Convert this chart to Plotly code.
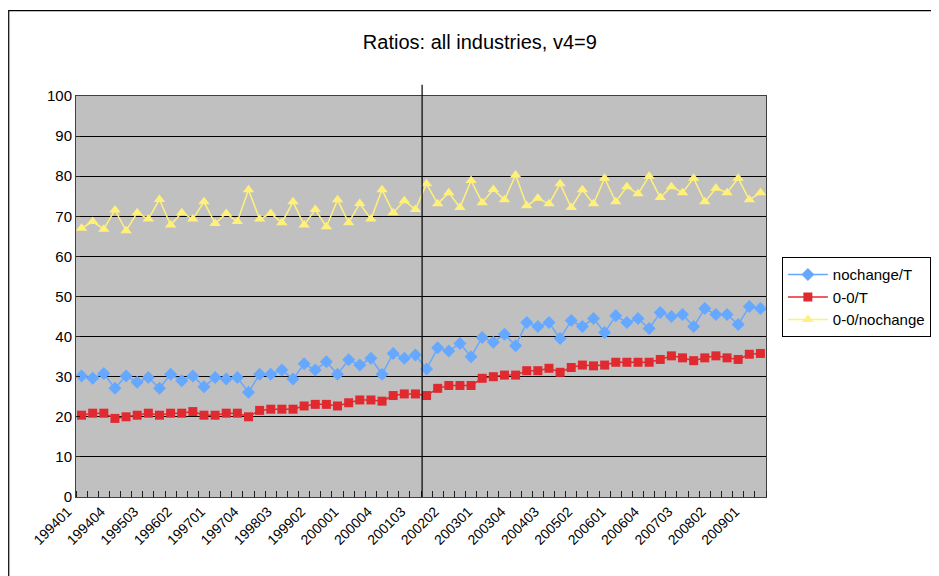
import plotly.graph_objects as go

quarters = [
    "199401", "199402", "199403", "199404", "199501", "199502", "199503", "199504",
    "199601", "199602", "199603", "199604", "199701", "199702", "199703", "199704",
    "199801", "199802", "199803", "199804", "199901", "199902", "199903", "199904",
    "200001", "200002", "200003", "200004", "200101", "200102", "200103", "200104",
    "200201", "200202", "200203", "200204", "200301", "200302", "200303", "200304",
    "200401", "200402", "200403", "200404", "200501", "200502", "200503", "200504",
    "200601", "200602", "200603", "200604", "200701", "200702", "200703", "200704",
    "200801", "200802", "200803", "200804", "200901", "200902",
]

nochange_T = [
    30.2, 29.6, 30.8, 27.1, 30.2, 28.6, 29.8, 27.1, 30.6, 29.0,
    30.2, 27.5, 29.8, 29.4, 29.8, 26.1, 30.6, 30.6, 31.7, 29.4,
    33.2, 31.7, 33.7, 30.6, 34.2, 32.9, 34.6, 30.6, 35.8, 34.6,
    35.4, 31.9, 37.2, 36.4, 38.3, 35.0, 39.8, 38.6, 40.6, 37.7,
    43.5, 42.5, 43.5, 39.5, 44.0, 42.5, 44.5, 41.0, 45.2, 43.5,
    44.5, 42.0, 46.0, 45.0, 45.5, 42.5, 47.0, 45.5, 45.5, 43.0,
    47.5, 47.0,
]

zero_zero_T = [
    20.4, 20.9, 20.9, 19.6, 20.0, 20.4, 20.9, 20.4, 20.9, 20.9,
    21.3, 20.4, 20.4, 20.9, 20.9, 20.0, 21.6, 21.9, 21.9, 21.9,
    22.7, 23.1, 23.1, 22.7, 23.5, 24.2, 24.2, 23.9, 25.3, 25.7,
    25.7, 25.3, 27.1, 27.8, 27.8, 27.8, 29.6, 30.0, 30.4, 30.4,
    31.5, 31.5, 32.1, 31.1, 32.3, 32.9, 32.7, 32.9, 33.6, 33.6,
    33.6, 33.6, 34.3, 35.2, 34.7, 34.0, 34.7, 35.2, 34.7, 34.3,
    35.6, 35.8,
]

zero_zero_nochange = [
    67.0, 68.7, 66.8, 71.6, 66.4, 70.9, 69.3, 74.2, 67.8, 70.9,
    69.3, 73.6, 68.2, 70.7, 68.7, 76.6, 69.3, 70.7, 68.4, 73.6,
    67.8, 71.7, 67.4, 74.1, 68.4, 73.2, 69.3, 76.6, 70.9, 73.9,
    71.7, 78.1, 73.1, 75.9, 72.2, 78.9, 73.4, 76.7, 74.1, 80.3,
    72.6, 74.5, 73.1, 78.1, 72.2, 76.6, 73.1, 79.5, 73.6, 77.4,
    75.6, 80.0, 74.7, 77.4, 75.9, 79.5, 73.6, 77.0, 75.9, 79.5,
    74.1, 75.9,
]

series_names = ["nochange/T", "0-0/T", "0-0/nochange"]
series_colors = ["#66A8FF", "#E02A30", "#FFF07A"]
series_symbols = ["diamond", "square", "triangle-up"]
break_after = "200103"

label_step = 3
x_idx = list(range(len(quarters)))
tick_idx = x_idx[::label_step]
tick_txt = quarters[::label_step]

fig = go.Figure()
for name, vals, col, sym in zip(series_names,
                                [nochange_T, zero_zero_T, zero_zero_nochange],
                                series_colors, series_symbols):
    fig.add_trace(go.Scatter(
        x=x_idx, y=vals, name=name, mode="lines+markers",
        line=dict(color=col, width=1.5),
        marker=dict(symbol=sym, size=10 if sym != "square" else 9, color=col,
                    line=dict(width=0)),
    ))

font_family = "Liberation Sans, Arial, sans-serif"

# vertical separator line between periods
bx = quarters.index(break_after) + 0.6
fig.add_shape(type="line", xref="x", yref="paper", x0=bx, x1=bx, y0=0, y1=1.028,
              line=dict(color="black", width=1.2))

# chart-area border
fig.add_shape(type="rect", xref="paper", yref="paper", x0=-0.0975, x1=1.4,
              y0=-0.3, y1=1.213, line=dict(color="black", width=1.2),
              fillcolor="rgba(0,0,0,0)", layer="below")

fig.update_layout(
    width=939, height=576,
    margin=dict(l=68, r=181, t=88, b=87),
    paper_bgcolor="white",
    plot_bgcolor="#C0C0C0",
    font=dict(family=font_family, size=14, color="black"),
    title=dict(text="Ratios: all industries, v4=9", x=0.5025, xanchor="center",
               y=0.941, yanchor="middle", font=dict(size=20)),
    showlegend=True,
    legend=dict(x=1.023, xanchor="left", y=0.598, yanchor="top",
                bordercolor="black", borderwidth=1, bgcolor="white",
                font=dict(size=15), itemwidth=40, tracegroupgap=0),
    xaxis=dict(
        range=[-0.5, len(quarters) - 0.5],
        tickmode="array", tickvals=tick_idx, ticktext=tick_txt,
        tickangle=-45, ticks="", showgrid=False, zeroline=False,
        showline=True, linecolor="#404040", linewidth=1, mirror=True,
        tickfont=dict(size=14), ticklabelshift=-14,
        minor=dict(tick0=-0.5, dtick=1, ticks="inside", ticklen=6,
                   tickcolor="#202020", showgrid=False),
    ),
    yaxis=dict(
        range=[0, 100], dtick=10, tick0=0,
        showgrid=True, gridcolor="black", gridwidth=1,
        zeroline=False, showline=True, linecolor="#404040", linewidth=1,
        mirror=True, ticks="inside", ticklen=4, tickcolor="#202020",
        tickfont=dict(size=15),
    ),
)

fig.write_html("out.html")
